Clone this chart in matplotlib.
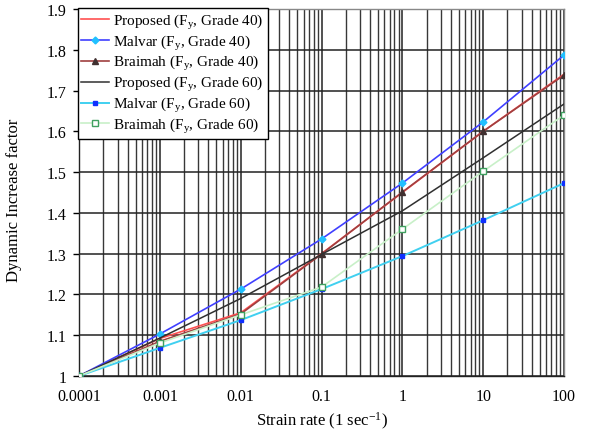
import matplotlib
matplotlib.use("Agg")
import matplotlib.pyplot as plt
import numpy as np

strain_rate = [0.0001, 0.001, 0.01, 0.1, 1, 10, 100]
proposed_40 = [1.0, 1.092, 1.155, 1.300, 1.450, 1.600, 1.740]
malvar_40 = [1.0, 1.103, 1.213, 1.336, 1.473, 1.623, 1.787]
braimah_40 = [1.0, 1.085, 1.152, 1.299, 1.451, 1.600, 1.738]
proposed_60 = [1.0, 1.093, 1.190, 1.298, 1.405, 1.535, 1.667]
malvar_60 = [1.0, 1.069, 1.137, 1.213, 1.294, 1.382, 1.473]
braimah_60 = [1.0, 1.081, 1.150, 1.218, 1.360, 1.502, 1.640]

x_ticks = [0.0001, 0.001, 0.01, 0.1, 1, 10, 100]
x_tick_labels = ["0.0001", "0.001", "0.01", "0.1", "1", "10", "100"]
y_ticks = [1, 1.1, 1.2, 1.3, 1.4, 1.5, 1.6, 1.7, 1.8, 1.9]
y_tick_labels = ["1", "1.1", "1.2", "1.3", "1.4", "1.5", "1.6", "1.7", "1.8", "1.9"]

plt.rcParams['font.family'] = ['Liberation Serif', 'DejaVu Serif']
plt.rcParams['mathtext.fontset'] = 'custom'
plt.rcParams['mathtext.rm'] = 'Liberation Serif'
plt.rcParams['mathtext.it'] = 'Liberation Serif'

fig = plt.figure(figsize=(5.9, 4.31), dpi=100)
ax = fig.add_axes([79/590, 1 - 377/431, (564 - 79)/590, (377 - 10)/431])

ax.set_xscale('log')
ax.set_xlim(0.0001, 100)
ax.set_ylim(1, 1.9)

# grid
ax.grid(True, which='major', axis='both', color='#222222', linewidth=1.1, zorder=0)
ax.grid(True, which='minor', axis='x', color='#383838', linewidth=1.0, zorder=0)
ax.set_axisbelow(True)

ax.plot(strain_rate, proposed_40, color='#ff5050', linewidth=1.2, label=r'Proposed (F$_\mathrm{y}$, Grade 40)', zorder=3)
ax.plot(strain_rate, malvar_40, color='#4040ff', linewidth=1.2, marker='D', markersize=3.5,
        markerfacecolor='#20c0ff', markeredgecolor='#20c0ff', label=r'Malvar (F$_\mathrm{y}$, Grade 40)', zorder=3)
ax.plot(strain_rate, braimah_40, color='#a04040', linewidth=1.2, marker='^', markersize=4,
        markerfacecolor='#403030', markeredgecolor='#403030', label=r'Braimah (F$_\mathrm{y}$, Grade 40)', zorder=3)
ax.plot(strain_rate, proposed_60, color='#303030', linewidth=1.1, label=r'Proposed (F$_\mathrm{y}$, Grade 60)', zorder=3)
ax.plot(strain_rate, malvar_60, color='#40d0f0', linewidth=1.4, marker='s', markersize=3.5,
        markerfacecolor='#1030ff', markeredgecolor='#1030ff', label=r'Malvar (F$_\mathrm{y}$, Grade 60)', zorder=3)
ax.plot(strain_rate, braimah_60, color='#c8f0c8', linewidth=1.2, marker='s', markersize=4,
        markerfacecolor='white', markeredgecolor='#40a060', markeredgewidth=1.0,
        label=r'Braimah (F$_\mathrm{y}$, Grade 60)', zorder=3)

ax.set_xticks(x_ticks)
ax.set_xticklabels(x_tick_labels, fontsize=11.5)
ax.set_yticks(y_ticks)
ax.set_yticklabels(y_tick_labels, fontsize=11.5)
ax.tick_params(axis='x', which='both', length=0, pad=9)
ax.tick_params(axis='y', which='major', length=4, direction='out', width=1, pad=5)

for s in ax.spines.values():
    s.set_color('#888888')
    s.set_linewidth(1.0)
ax.spines['left'].set_color('#222222')
ax.spines['bottom'].set_color('#222222')

ax.set_xlabel(r'Strain rate (1 sec$^{-1}$)', fontsize=12)
ax.xaxis.set_label_coords(0.501, -0.092)
ax.set_ylabel('Dynamic Increase factor', fontsize=12)
ax.yaxis.set_label_coords(-0.118, 0.482)

leg = ax.legend(loc='upper left', bbox_to_anchor=(-0.003, 1.003), fontsize=11,
                frameon=True, fancybox=False, edgecolor='black', framealpha=1,
                handlelength=1.8, handletextpad=0.3, labelspacing=0.12,
                borderpad=0.25, borderaxespad=0)
leg.get_frame().set_linewidth(1.0)

fig.savefig('out.png', dpi=100)
